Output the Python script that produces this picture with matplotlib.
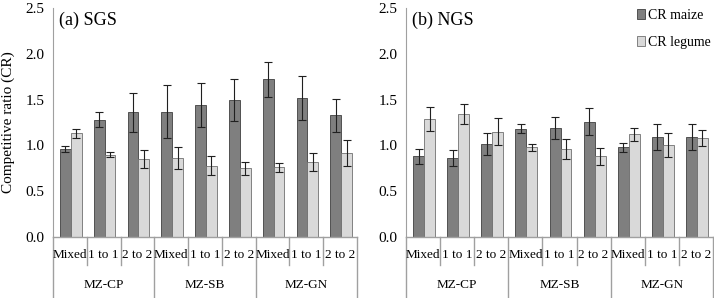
import numpy as np
import matplotlib.pyplot as plt

plt.rcParams['font.family'] = ['Liberation Serif', 'DejaVu Serif']

cats = ['Mixed', '1 to 1', '2 to 2'] * 3
groups = ['MZ-CP', 'MZ-SB', 'MZ-GN']

# panel (a) SGS
sgs_maize = [0.96, 1.28, 1.36, 1.37, 1.44, 1.50, 1.72, 1.52, 1.33]
sgs_maize_err = [0.03, 0.08, 0.21, 0.29, 0.24, 0.23, 0.19, 0.24, 0.18]
sgs_legume = [1.13, 0.90, 0.85, 0.86, 0.78, 0.75, 0.76, 0.82, 0.92]
sgs_legume_err = [0.05, 0.03, 0.10, 0.12, 0.10, 0.07, 0.05, 0.10, 0.14]

# panel (b) NGS
ngs_maize = [0.88, 0.86, 1.02, 1.18, 1.19, 1.26, 0.98, 1.09, 1.09]
ngs_maize_err = [0.08, 0.09, 0.12, 0.05, 0.12, 0.15, 0.05, 0.14, 0.14]
ngs_legume = [1.29, 1.34, 1.15, 0.98, 0.96, 0.88, 1.12, 1.00, 1.08]
ngs_legume_err = [0.13, 0.11, 0.15, 0.04, 0.11, 0.09, 0.07, 0.13, 0.09]

fig = plt.figure(figsize=(7.14, 2.98), dpi=100)
W, H = 714, 298
y0, y1 = 237, 8
ax1 = fig.add_axes([53 / W, 1 - y0 / H, 304 / W, (y0 - y1) / H])
ax2 = fig.add_axes([406 / W, 1 - y0 / H, 307 / W, (y0 - y1) / H])

line_col = '#a0a0a0'
w = 0.32


def panel(ax, maize, maize_err, legume, legume_err, title):
    x = np.arange(len(cats))
    ax.bar(x - w / 2 + 0.03, maize, w, color='#7f7f7f', edgecolor='#404040',
           linewidth=0.6, label='CR maize')
    ax.bar(x + w / 2 + 0.03, legume, w, color='#d9d9d9', edgecolor='#707070',
           linewidth=0.6, label='CR legume')
    ax.errorbar(x - w / 2 + 0.03, maize, yerr=maize_err, fmt='none',
                ecolor='#202020', elinewidth=0.8, capsize=3, capthick=0.8)
    ax.errorbar(x + w / 2 + 0.03, legume, yerr=legume_err, fmt='none',
                ecolor='#202020', elinewidth=0.8, capsize=3, capthick=0.8)
    ax.set_xlim(-0.5, 8.5)
    ax.set_ylim(0, 2.5)
    ax.set_yticks(np.arange(0, 2.51, 0.5))
    ax.set_yticklabels([f'{v:.1f}' for v in np.arange(0, 2.51, 0.5)], fontsize=11)
    ax.tick_params(axis='y', length=0, pad=6)
    ax.set_xticks([])
    for s in ['top', 'right', 'bottom']:
        ax.spines[s].set_visible(False)
    ax.spines['left'].set_color(line_col)
    ax.spines['left'].set_bounds(0, 2.5)
    tr = ax.get_xaxis_transform()
    ax.plot([-0.5, 8.5], [0, 0], color=line_col, lw=1, transform=tr, clip_on=False)
    short = -(265 - 237) / 229
    long = -(298 - 237) / 229
    for i in range(10):
        xs = i - 0.5
        bottom = long if i % 3 == 0 else short
        ax.plot([xs, xs], [0, bottom], color=line_col, lw=1, transform=tr, clip_on=False)
    for i, c in enumerate(cats):
        ax.text(i, -(255 - 237) / 229, c, transform=tr, ha='center', va='center',
                fontsize=9.5)
    for j, g in enumerate(groups):
        ax.text(3 * j + 1, -(285 - 237) / 229, g, transform=tr, ha='center',
                va='center', fontsize=9.5)
    ax.text(0.02, 0.985, title, transform=ax.transAxes, ha='left', va='top',
            fontsize=13)


panel(ax1, sgs_maize, sgs_maize_err, sgs_legume, sgs_legume_err, '(a) SGS')
panel(ax2, ngs_maize, ngs_maize_err, ngs_legume, ngs_legume_err, '(b) NGS')

ax1.set_ylabel('Competitive ratio (CR)', fontsize=11, labelpad=8)

ax2.legend(loc='upper right', bbox_to_anchor=(1.025, 1.04), frameon=False,
           fontsize=10, handlelength=0.6, handleheight=0.8, handletextpad=0.2,
           labelspacing=1.0, borderpad=0.2)

fig.savefig('out.png', dpi=100)
